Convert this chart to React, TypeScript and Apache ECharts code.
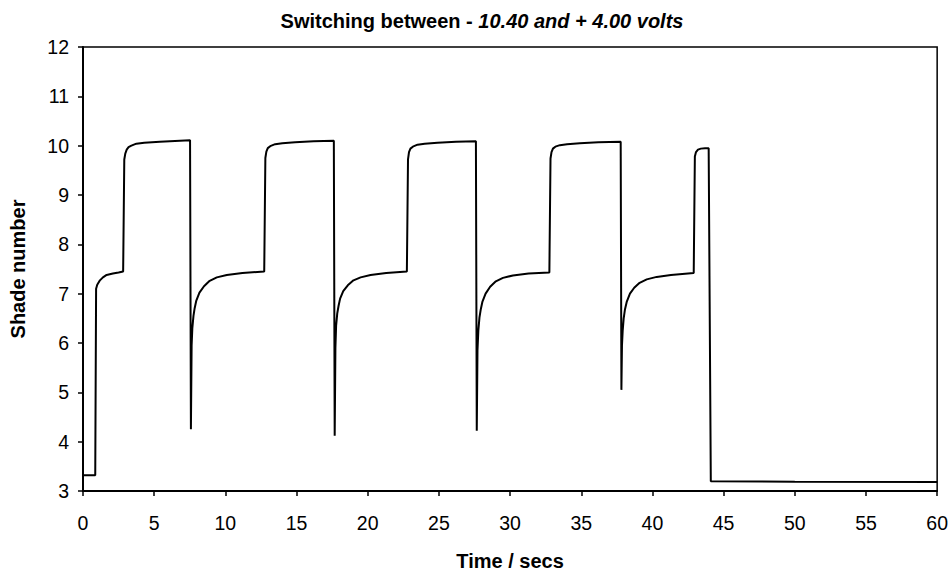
import React, { useEffect, useRef } from "react";
import * as echarts from "echarts";

const chartTitle = "Switching between - ";
const chartTitleItalic = "10.40 and + 4.00 volts";
const xAxisName = "Time / secs";
const yAxisName = "Shade number";

// Time (s) samples
const timeSecs: number[] = [
  // start, first step
  0, 0.86, 0.89, 0.92, 1.0, 1.19, 1.4, 1.66, 2.1, 2.5, 2.82,
  // first top
  2.85, 2.9, 2.97, 3.07, 3.2, 3.4, 3.75, 4.3, 5.4, 7.52,
  // drop 1 and recovery
  7.56, 7.58, 7.63, 7.68, 7.76, 7.84, 7.96, 8.18, 8.5, 8.9, 9.4, 10.1, 11.2, 12.73,
  // top 2
  12.76, 12.81, 12.88, 12.98, 13.15, 13.5, 14.0, 14.9, 16.2, 17.62,
  // drop 2 and recovery
  17.66, 17.68, 17.73, 17.78, 17.86, 17.95, 18.06, 18.28, 18.6, 19.0, 19.5, 20.2, 21.3, 22.75,
  // top 3
  22.78, 22.83, 22.9, 23.0, 23.17, 23.5, 24.0, 24.9, 26.2, 27.6,
  // drop 3 and recovery
  27.64, 27.66, 27.71, 27.77, 27.85, 27.94, 28.06, 28.28, 28.6, 29.0, 29.5, 30.2, 31.3, 32.76,
  // top 4
  32.79, 32.84, 32.91, 33.01, 33.18, 33.5, 34.0, 34.9, 36.2, 37.77,
  // drop 4 and recovery
  37.8, 37.82, 37.86, 37.91, 37.98, 38.07, 38.2, 38.42, 38.72, 39.1, 39.6, 40.3, 41.3, 42.9,
  // last short top
  42.93, 42.98, 43.06, 43.2, 43.4, 43.7, 43.95,
  // final drop and baseline
  43.99, 44.1, 50, 60,
];

// Shade number at each time sample
const shadeNumber: number[] = [
  3.32, 3.32, 3.32, 7.1, 7.18, 7.27, 7.33, 7.38, 7.41, 7.43, 7.45,
  7.46, 9.72, 9.84, 9.92, 9.97, 10.0, 10.04, 10.06, 10.08, 10.11,
  10.11, 4.25, 5.95, 6.3, 6.55, 6.7, 6.86, 7.02, 7.15, 7.26, 7.33, 7.38, 7.42, 7.45,
  7.45, 9.75, 9.88, 9.95, 9.99, 10.03, 10.05, 10.07, 10.09, 10.1,
  10.1, 4.12, 5.9, 6.35, 6.6, 6.75, 6.9, 7.05, 7.17, 7.27, 7.33, 7.38, 7.42, 7.45,
  7.45, 9.72, 9.87, 9.94, 9.98, 10.02, 10.04, 10.06, 10.08, 10.09,
  10.09, 4.22, 5.85, 6.25, 6.52, 6.68, 6.84, 7.0, 7.14, 7.25, 7.32, 7.37, 7.41, 7.43,
  7.43, 9.74, 9.87, 9.94, 9.98, 10.01, 10.03, 10.05, 10.07, 10.08,
  10.08, 5.05, 5.95, 6.25, 6.5, 6.68, 6.84, 7.0, 7.12, 7.22, 7.29, 7.34, 7.38, 7.42,
  7.42, 9.78, 9.87, 9.92, 9.94, 9.95, 9.95,
  9.95, 3.2, 3.19, 3.18,
];

const FONT = "'Liberation Sans', Arial, Helvetica, sans-serif";

export default function App() {
  const ref = useRef<HTMLDivElement>(null);

  useEffect(() => {
    if (!ref.current) return;
    const chart = echarts.init(ref.current, undefined, { renderer: "svg" });
    const data = timeSecs.map((t, i) => [t, shadeNumber[i]]);
    chart.setOption({
      animation: false,
      backgroundColor: "#fff",
      title: {
        text: `{n|${chartTitle}}{i|${chartTitleItalic}}`,
        left: 482,
        textAlign: "center",
        top: 11,
        padding: 0,
        textStyle: {
          rich: {
            n: { fontFamily: FONT, fontWeight: "bold", fontSize: 20, color: "#000" },
            i: { fontFamily: FONT, fontWeight: "bold", fontStyle: "italic", fontSize: 20, color: "#000" },
          },
        },
      },
      grid: {
        left: 83,
        right: 10,
        top: 47,
        bottom: 78,
        show: true,
        borderColor: "#000",
        borderWidth: 1.5,
        backgroundColor: "transparent",
      },
      xAxis: {
        type: "value",
        min: 0,
        max: 60,
        interval: 5,
        name: xAxisName,
        nameLocation: "middle",
        nameGap: 60,
        nameTextStyle: { fontFamily: FONT, fontWeight: "bold", fontSize: 20, color: "#000" },
        axisLine: { show: true, lineStyle: { color: "#000", width: 2 } },
        axisTick: { show: true, inside: false, length: 5, lineStyle: { color: "#000", width: 1.5 } },
        axisLabel: { fontFamily: FONT, fontSize: 19.5, color: "#000", margin: 22 },
        splitLine: { show: false },
      },
      yAxis: {
        type: "value",
        min: 3,
        max: 12,
        interval: 1,
        name: yAxisName,
        nameLocation: "middle",
        nameGap: 55,
        nameTextStyle: { fontFamily: FONT, fontWeight: "bold", fontSize: 20, color: "#000" },
        axisLine: { show: true, lineStyle: { color: "#000", width: 2 } },
        axisTick: { show: true, inside: false, length: 5, lineStyle: { color: "#000", width: 1.5 } },
        axisLabel: { fontFamily: FONT, fontSize: 19.5, color: "#000", margin: 14 },
        splitLine: { show: false },
      },
      series: [
        {
          type: "line",
          data,
          showSymbol: false,
          smooth: false,
          lineStyle: { color: "#000", width: 2 },
          silent: true,
        },
      ],
    });
    return () => chart.dispose();
  }, []);

  return (
    <div
      ref={ref}
      style={{ position: "fixed", left: 0, top: 0, width: 951, height: 576, background: "#fff" }}
    />
  );
}
